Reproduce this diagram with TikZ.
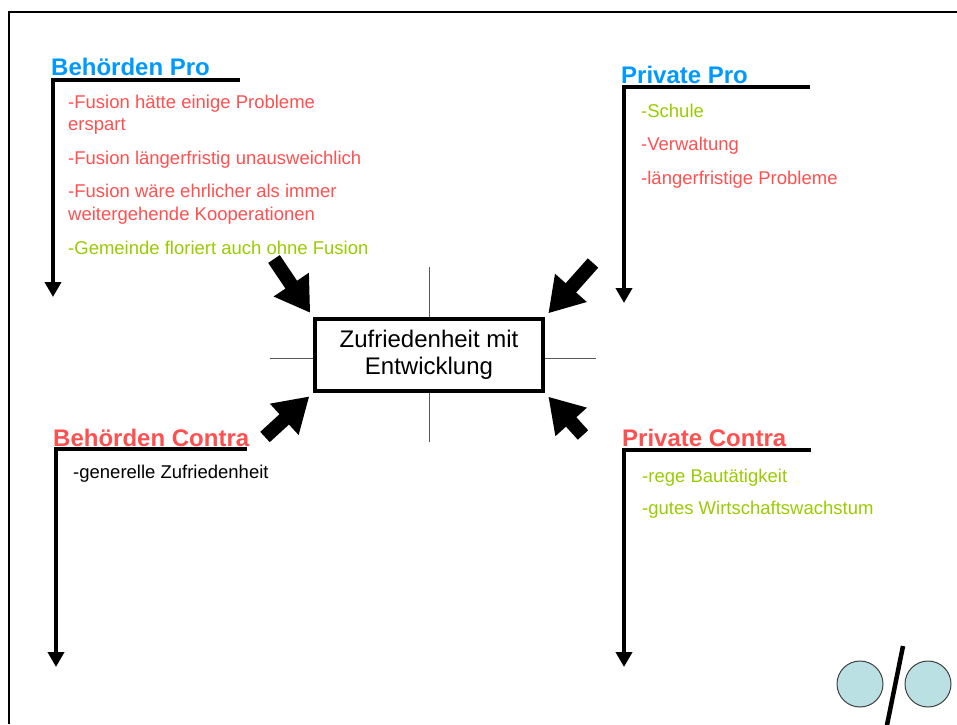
\documentclass[tikz,border=0pt]{standalone}
\usepackage{fontspec}
\setmainfont{Liberation Sans}
\usetikzlibrary{arrows.meta,positioning,calc}
\definecolor{headblue}{HTML}{0099FF}
\definecolor{itemred}{HTML}{FF5050}
\definecolor{itemgreen}{HTML}{99CC00}
\definecolor{logoblue}{HTML}{BBE0E3}
\tikzset{
  head/.style={anchor=base west,inner sep=0pt,font=\fontsize{24}{27}\selectfont\bfseries},
  item/.style={anchor=base west,inner sep=0pt,font=\fontsize{18.5}{22}\selectfont},
  bar/.style={line width=4pt,line join=miter,-{Triangle[width=16pt,length=15pt]}},
  push/.style={line width=14pt,-{Triangle[width=40pt,length=34pt]},shorten >=5pt},
  mainbox/.style={draw,line width=4pt,fill=white,minimum width=228pt,minimum height=72pt,
    align=center,font=\fontsize{24}{27}\selectfont},
  dot/.style={circle,draw=black!75,line width=1pt,fill=logoblue,minimum size=46pt,inner sep=0pt}
}
\begin{document}
\begin{tikzpicture}[x=1pt,y=-1pt]
   \useasboundingbox (0,0) rectangle (957,724);
   \draw[line width=2pt] (9,724) -- (9,12) -- (957,12);

   % Behoerden Pro
   \node[head,text=headblue] (bphead) at (51,75) {Behörden Pro};
   \coordinate (bpe) at (240,80);
   \coordinate (bpc) at (53,80);
   \coordinate (bps) at (53,297);
   \draw[bar] (bpe) -- (bpc) -- (bps);
   \node[item,text=itemred] (bp1) at (68,108) {-Fusion hätte einige Probleme};
   \node[item,text=itemred] (bp1b) at (68,130) {erspart};
   \node[item,text=itemred] (bp2) at (68,164) {-Fusion längerfristig unausweichlich};
   \node[item,text=itemred] (bp3) at (68,197) {-Fusion wäre ehrlicher als immer};
   \node[item,text=itemred] (bp3b) at (68,220) {weitergehende Kooperationen};
   \node[item,text=itemgreen] (bp4) at (68,254) {-Gemeinde floriert auch ohne Fusion};

   % Private Pro
   \node[head,text=headblue] (pphead) at (621,83) {Private Pro};
   \coordinate (ppe) at (810,87);
   \coordinate (ppc) at (624,87);
   \coordinate (pps) at (624,303);
   \draw[bar] (ppe) -- (ppc) -- (pps);
   \node[item,text=itemgreen] (pp1) at (641,117) {-Schule};
   \node[item,text=itemred] (pp2) at (641,150) {-Verwaltung};
   \node[item,text=itemred] (pp3) at (641,184) {-längerfristige Probleme};

   % Behoerden Contra
   \node[head,text=itemred] (bchead) at (53,446) {Behörden Contra};
   \coordinate (bce) at (247,449);
   \coordinate (bcc) at (56,449);
   \coordinate (bcs) at (56,667);
   \draw[bar] (bce) -- (bcc) -- (bcs);
   \node[item] (bc1) at (73,478) {-generelle Zufriedenheit};

   % Private Contra
   \node[head,text=itemred] (pchead) at (622,446) {Private Contra};
   \coordinate (pce) at (811,450);
   \coordinate (pcc) at (624,450);
   \coordinate (pcs) at (624,667);
   \draw[bar] (pce) -- (pcc) -- (pcs);
   \node[item,text=itemgreen] (pc1) at (642,482) {-rege Bautätigkeit};
   \node[item,text=itemgreen] (pc2) at (642,514) {-gutes Wirtschaftswachstum};

   % centre
   \draw[black!65,line width=1pt] (429,267) -- (429,442) (270,358) -- (596,358);
   \node[mainbox] (zuf) at (429,355) {Zufriedenheit mit\\Entwicklung};
   \coordinate (tl) at (274,259);
   \coordinate (tr) at (593,263);
   \coordinate (bl) at (265,437);
   \coordinate (br) at (583,435);
   \draw[push] (tl) -- (zuf.north west);
   \draw[push] (tr) -- (zuf.north east);
   \draw[push] (bl) -- (zuf.south west);
   \draw[push] (br) -- (zuf.south east);

   % logo
   \node[dot] (c1) at (860,684) {};
   \node[dot] (c2) at (928,684) {};
   \draw[line width=4.5pt] (903,646) -- (886,730);
\end{tikzpicture}
\end{document}
